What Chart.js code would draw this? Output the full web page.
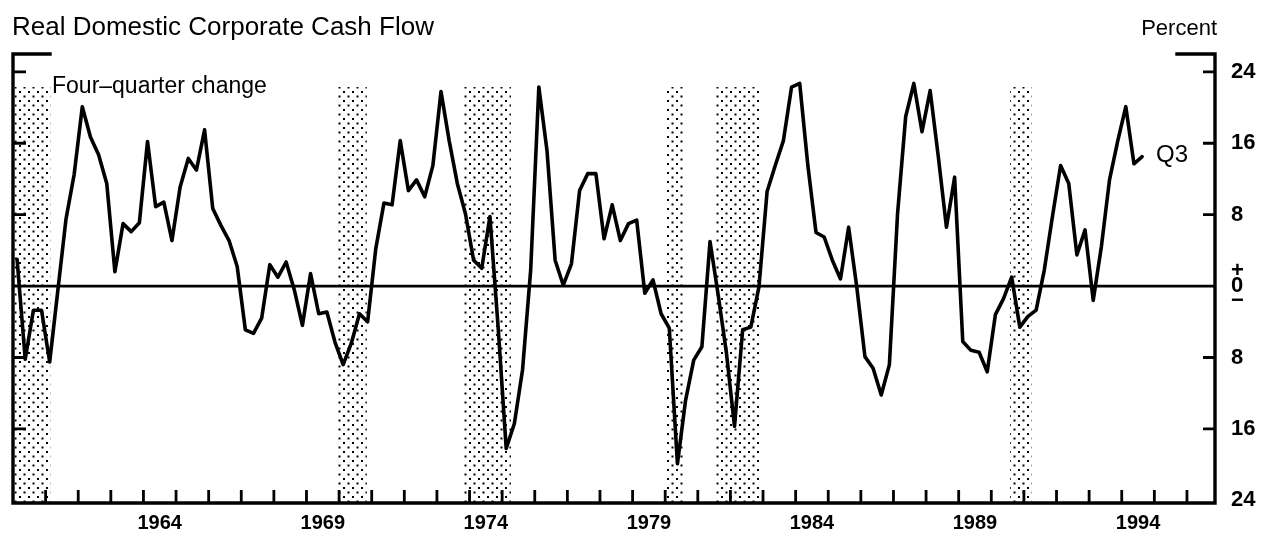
<!DOCTYPE html>
<html>
<head>
<meta charset="utf-8">
<script src="https://cdn.jsdelivr.net/npm/chart.js@4.4.1/dist/chart.umd.min.js"></script>
<style>
  html, body { margin: 0; padding: 0; background: #ffffff; }
  #wrap { width: 1269px; height: 538px; position: relative; }
</style>
</head>
<body>
<div id="wrap"><canvas id="c" width="1269" height="538"></canvas></div>
<script>
// ---------------- data ----------------
const titleText = 'Real Domestic Corporate Cash Flow';
const unitText = 'Percent';
const seriesLabel = 'Four\u2013quarter change';
const lastLabel = 'Q3';
const firstYear = 1960;            // first quarter shown: 1960 Q1
// Four-quarter percent change, quarterly 1960Q1 .. 1994Q3
const cashFlowChange = [
  3.0, -8.2, -2.7, -2.7,        // 1960
  -8.5, -0.5, 7.5, 12.5,        // 1961
  20.1, 16.7, 14.7, 11.5,       // 1962
  1.6, 7.0, 6.1, 7.1,           // 1963
  16.2, 8.9, 9.4, 5.1,          // 1964
  11.1, 14.3, 13.0, 17.5,       // 1965
  8.7, 6.8, 5.1, 2.2,           // 1966
  -4.9, -5.3, -3.6, 2.4,        // 1967
  1.0, 2.7, -0.4, -4.4,         // 1968
  1.4, -3.1, -2.9, -6.3,        // 1969
  -8.8, -6.4, -3.1, -4.0,       // 1970
  4.2, 9.3, 9.1, 16.3,          // 1971
  10.7, 11.9, 10.0, 13.5,       // 1972
  21.8, 16.3, 11.5, 8.1,        // 1973
  2.9, 2.0, 7.8, -4.5,          // 1974
  -18.2, -15.4, -9.4, 1.8,      // 1975
  22.3, 15.2, 2.9, 0.1,         // 1976
  2.5, 10.7, 12.6, 12.6,        // 1977
  5.3, 9.1, 5.1, 7.0,           // 1978
  7.4, -0.8, 0.7, -3.1,         // 1979
  -4.7, -19.9, -12.8, -8.3,     // 1980
  -6.8, 5.0, -1.0, -7.4,        // 1981
  -15.7, -4.9, -4.6, -0.1,      // 1982
  10.6, 13.5, 16.3, 22.3,       // 1983
  22.7, 13.5, 6.0, 5.5,         // 1984
  2.9, 0.8, 6.6, -0.1,          // 1985
  -7.9, -9.2, -12.2, -8.8,      // 1986
  8.1, 19.0, 22.7, 17.3,        // 1987
  21.9, 14.5, 6.6, 12.2,        // 1988
  -6.2, -7.2, -7.4, -9.6,       // 1989
  -3.2, -1.4, 1.0, -4.6,        // 1990
  -3.4, -2.7, 1.8, 7.8,         // 1991
  13.5, 11.5, 3.5, 6.3,         // 1992
  -1.6, 4.4, 11.9, 16.2,        // 1993
  20.1, 13.7, 14.5              // 1994
];
// recession shading (decimal years)
const recessionStart = [1960.05, 1969.92, 1973.83, 1980.03, 1981.52, 1990.58];
const recessionEnd   = [1961.15, 1970.85, 1975.27, 1980.59, 1982.93, 1991.24];
// axes
const yTickValues = [-24, -16, -8, 0, 8, 16, 24];
const yearLabels = [1964, 1969, 1974, 1979, 1984, 1989, 1994];
const yearTickFirst = 1961, yearTickLast = 1996;

// ---------------- styling / layout ----------------
const FONT = '"Liberation Sans", Arial, Helvetica, sans-serif';
const X_MIN = 1960, X_MAX = 1996.86;
const Y_MIN = -24.3, Y_MAX = 26;
const SHADE_TOP = 22.3;

const points = cashFlowChange.map((v, i) => ({ x: firstYear + (i + 0.5) / 4, y: v }));

function makeDotPattern(ctx) {
  const t = document.createElement('canvas');
  t.width = 9; t.height = 9;
  const c = t.getContext('2d');
  c.fillStyle = '#ffffff';
  c.fillRect(0, 0, 9, 9);
  c.fillStyle = '#000000';
  c.fillRect(1, 1, 2, 2);
  c.fillRect(5.5, 5.5, 2, 2);
  return ctx.createPattern(t, 'repeat');
}

const framePlugin = {
  id: 'frame',
  beforeDatasetsDraw(chart) {
    const { ctx, chartArea: a, scales } = chart;
    const xs = scales.x, ys = scales.y;
    ctx.save();
    // recession bands
    ctx.fillStyle = makeDotPattern(ctx);
    const top = ys.getPixelForValue(SHADE_TOP);
    recessionStart.forEach((s, i) => {
      const x0 = xs.getPixelForValue(s), x1 = xs.getPixelForValue(recessionEnd[i]);
      ctx.fillRect(x0, top, x1 - x0, a.bottom - top);
    });
    // zero line
    const y0 = ys.getPixelForValue(0);
    ctx.strokeStyle = '#000';
    ctx.lineWidth = 2.8;
    ctx.beginPath();
    ctx.moveTo(a.left, y0);
    ctx.lineTo(a.right, y0);
    ctx.stroke();
    ctx.restore();
  },
  afterDatasetsDraw(chart) {
    const { ctx, chartArea: a, scales } = chart;
    const xs = scales.x, ys = scales.y;
    ctx.save();
    ctx.strokeStyle = '#000';
    ctx.lineCap = 'square';
    ctx.lineWidth = 3.4;
    // frame: left, bottom, right axes + short top pieces
    ctx.beginPath();
    ctx.moveTo(a.left + 37, a.top);
    ctx.lineTo(a.left, a.top);
    ctx.lineTo(a.left, a.bottom);
    ctx.lineTo(a.right, a.bottom);
    ctx.lineTo(a.right, a.top);
    ctx.lineTo(a.right - 38, a.top);
    ctx.stroke();
    // inward tick marks
    ctx.lineWidth = 2.8;
    ctx.lineCap = 'butt';
    ctx.beginPath();
    for (let yr = yearTickFirst; yr <= yearTickLast; yr++) {
      const px = xs.getPixelForValue(yr);
      ctx.moveTo(px, a.bottom);
      ctx.lineTo(px, a.bottom - 13);
    }
    yTickValues.forEach(v => {
      if (v === 0 || v < Y_MIN + 1) return;
      const py = ys.getPixelForValue(v);
      ctx.moveTo(a.left, py); ctx.lineTo(a.left + 13, py);
      ctx.moveTo(a.right, py); ctx.lineTo(a.right - 12, py);
    });
    ctx.stroke();
    ctx.restore();
  },
  afterDraw(chart) {
    const { ctx, chartArea: a } = chart;
    ctx.save();
    ctx.fillStyle = '#000';
    ctx.textBaseline = 'alphabetic';
    ctx.font = '26px ' + FONT;
    ctx.textAlign = 'left';
    ctx.fillText(titleText, 12, 35);
    ctx.font = '22px ' + FONT;
    ctx.textAlign = 'right';
    ctx.fillText(unitText, a.right + 2, 35);
    ctx.textAlign = 'left';
    ctx.font = '23px ' + FONT;
    ctx.fillText(seriesLabel, a.left + 39, 93);
    // label at end of series
    const meta = chart.getDatasetMeta(0);
    const last = meta.data[meta.data.length - 1];
    ctx.font = '24px ' + FONT;
    ctx.textBaseline = 'middle';
    ctx.fillText(lastLabel, last.x + 14, last.y - 1);
    ctx.restore();
  }
};

new Chart(document.getElementById('c'), {
  type: 'line',
  data: {
    datasets: [{
      data: points,
      borderColor: '#000',
      borderWidth: 3.6,
      pointRadius: 0,
      tension: 0,
      fill: false,
      borderJoinStyle: 'round',
      borderCapStyle: 'round'
    }]
  },
  options: {
    responsive: false,
    animation: false,
    devicePixelRatio: 1,
    layout: { padding: { left: 13, top: 54, right: 0, bottom: 0 } },
    plugins: { legend: { display: false }, tooltip: { enabled: false }, title: { display: false } },
    scales: {
      x: {
        type: 'linear',
        position: 'bottom',
        min: X_MIN, max: X_MAX,
        afterBuildTicks(scale) { scale.ticks = yearLabels.map(y => ({ value: y + 0.5 })); },
        afterFit(scale) { scale.height = 35; },
        grid: { display: false, drawTicks: false },
        border: { display: false },
        ticks: {
          autoSkip: false, maxRotation: 0, padding: 8,
          color: '#000',
          font: { family: FONT, size: 20, weight: 'bold' },
          callback: v => String(Math.floor(v))
        }
      },
      y: {
        type: 'linear',
        position: 'right',
        min: Y_MIN, max: Y_MAX,
        afterBuildTicks(scale) { scale.ticks = yTickValues.map(v => ({ value: v })); },
        afterFit(scale) { scale.width = 54; },
        grid: { display: false, drawTicks: false },
        border: { display: false },
        ticks: {
          padding: 16,
          color: '#000',
          font: ctx => (ctx.tick && ctx.tick.value === 0)
            ? { family: FONT, size: 22, weight: 'bold', lineHeight: 0.68 }
            : { family: FONT, size: 22, weight: 'bold' },
          callback: v => v === 0 ? ['+', '0', '\u2212'] : String(Math.abs(v))
        }
      }
    }
  },
  plugins: [framePlugin]
});
</script>
</body>
</html>
